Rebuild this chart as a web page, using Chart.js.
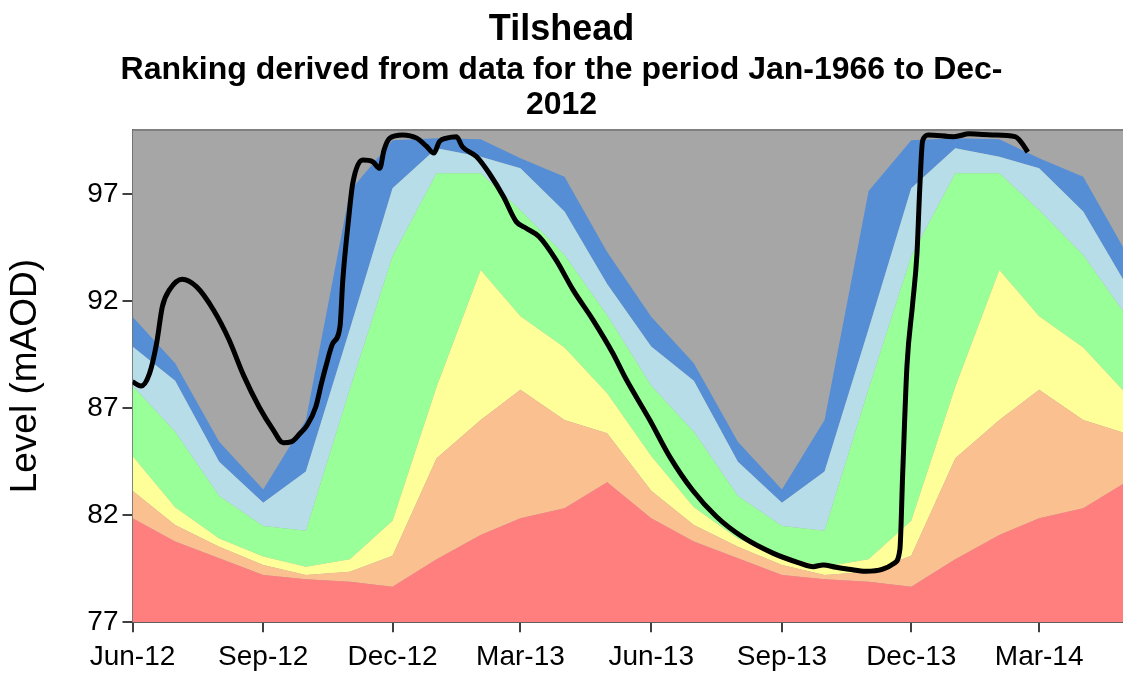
<!DOCTYPE html>
<html>
<head>
<meta charset="utf-8">
<title>Tilshead</title>
<script src="https://cdn.jsdelivr.net/npm/chart.js@4.4.1/dist/chart.umd.min.js"></script>
<style>
  html, body { margin: 0; padding: 0; background: #fff; overflow: hidden; }
  canvas { display: block; }
</style>
</head>
<body>
<canvas id="levelChart" width="1123" height="678"></canvas>
<script>
// upper edge of each ranking band (mAOD), calendar months Jun..May
const redTop       = [81.86, 80.77, 79.99, 79.21, 79.01, 78.90, 78.66, 79.95, 81.08, 81.86, 82.33, 83.54];
const salmonTop    = [83.15, 81.55, 80.53, 79.68, 79.21, 79.36, 80.11, 84.66, 86.45, 87.86, 86.45, 85.83];
const yellowTop    = [84.77, 82.37, 80.92, 80.07, 79.60, 79.94, 81.75, 88.00, 93.46, 91.30, 89.84, 87.70];
const greenTop     = [88.05, 85.90, 82.90, 81.50, 81.28, 87.90, 94.10, 97.98, 97.98, 96.25, 94.16, 91.35];
const lightBlueTop = [89.88, 88.28, 84.50, 82.59, 84.04, 90.70, 97.28, 99.15, 98.75, 98.21, 96.19, 92.80];
const blueTop      = [91.28, 89.10, 85.44, 83.21, 86.45, 97.15, 99.52, 99.62, 99.57, 98.68, 97.82, 94.30];

const monthStarts = [
  '2012-06-01', '2012-07-01', '2012-08-01', '2012-09-01', '2012-10-01', '2012-11-01',
  '2012-12-01', '2013-01-01', '2013-02-01', '2013-03-01', '2013-04-01', '2013-05-01',
  '2013-06-01', '2013-07-01', '2013-08-01', '2013-09-01', '2013-10-01', '2013-11-01',
  '2013-12-01', '2014-01-01', '2014-02-01', '2014-03-01', '2014-04-01', '2014-05-01'
];

// observed groundwater level
const levelDates = [
  '2012-06-01', '2012-06-07', '2012-06-13', '2012-06-18', '2012-06-22', '2012-06-27',
  '2012-07-06', '2012-07-16', '2012-07-28', '2012-08-08', '2012-08-18', '2012-08-29',
  '2012-09-08', '2012-09-15', '2012-09-21', '2012-09-27', '2012-10-02', '2012-10-08',
  '2012-10-12', '2012-10-15', '2012-10-20', '2012-10-25', '2012-10-27', '2012-10-31',
  '2012-11-03', '2012-11-10', '2012-11-17', '2012-11-22', '2012-11-25', '2012-11-29',
  '2012-12-08', '2012-12-18', '2012-12-25', '2012-12-30', '2013-01-03', '2013-01-08',
  '2013-01-15', '2013-01-19', '2013-01-29', '2013-02-07', '2013-02-17', '2013-02-26',
  '2013-03-05', '2013-03-14', '2013-03-26', '2013-04-07', '2013-04-21', '2013-05-05',
  '2013-05-14', '2013-05-31', '2013-06-14', '2013-06-30', '2013-07-17', '2013-08-04',
  '2013-08-26', '2013-09-13', '2013-09-23', '2013-09-30', '2013-10-09', '2013-10-18',
  '2013-10-30', '2013-11-11', '2013-11-19', '2013-11-23', '2013-11-25', '2013-11-28',
  '2013-12-02', '2013-12-05', '2013-12-07', '2013-12-09', '2013-12-13', '2013-12-31',
  '2014-01-11', '2014-01-27', '2014-02-12', '2014-02-16', '2014-02-21'
];
const levelValues = [
  88.24, 88.04, 88.63, 90.05, 91.75, 92.53,
  93.03, 92.68, 91.59, 90.19, 88.56, 87.07,
  85.99, 85.39, 85.44, 85.83, 86.22, 87.07,
  88.17, 88.94, 90.04, 90.81, 93.00, 95.80,
  97.51, 98.60, 98.52, 98.21, 99.07, 99.62,
  99.77, 99.62, 99.23, 98.92, 99.46, 99.62,
  99.69, 99.23, 98.76, 97.98, 96.89, 95.72,
  95.41, 95.02, 93.93, 92.53, 91.13, 89.57,
  88.40, 86.45, 84.74, 83.18, 81.93, 81.00,
  80.22, 79.78, 79.60, 79.68, 79.57, 79.48,
  79.38, 79.48, 79.76, 80.40, 84.00, 89.00,
  91.90, 94.20, 97.30, 99.50, 99.77, 99.69,
  99.82, 99.77, 99.69, 99.46, 98.97
];

const tickDates = ['2012-06-01', '2012-09-01', '2012-12-01', '2013-03-01', '2013-06-01', '2013-09-01', '2013-12-01', '2014-03-01'];
const tickLabels = ['Jun-12', 'Sep-12', 'Dec-12', 'Mar-13', 'Jun-13', 'Sep-13', 'Dec-13', 'Mar-14'];
const levelTicks = [77, 82, 87, 92, 97];

const DAY0 = Date.UTC(2012, 5, 1);
function dayNum(s) {
  const [y, m, d] = s.split('-').map(Number);
  return (Date.UTC(y, m - 1, d) - DAY0) / 864e5;
}

const FONT = 'Liberation Sans, Arial, Helvetica, sans-serif';

function band(values) {
  return monthStarts.map((d, i) => ({ x: dayNum(d), y: values[i % 12] }));
}

function bandSet(label, values, color, fill) {
  return {
    label: label,
    data: band(values),
    backgroundColor: color,
    borderWidth: 0,
    pointRadius: 0,
    tension: 0,
    fill: fill
  };
}

// grey plot area behind the bands, grey frame on top
const plotFrame = {
  id: 'plotFrame',
  beforeDatasetsDraw(chart) {
    const { ctx, chartArea: a } = chart;
    ctx.save();
    ctx.fillStyle = '#a6a6a6';
    ctx.fillRect(a.left, a.top, a.right - a.left, a.bottom - a.top);
    ctx.restore();
  },
  afterDatasetsDraw(chart) {
    const { ctx, chartArea: a } = chart;
    ctx.save();
    ctx.strokeStyle = '#7f7f7f';
    ctx.lineWidth = 2;
    ctx.beginPath();
    ctx.moveTo(a.left, a.top);
    ctx.lineTo(a.right, a.top);
    ctx.stroke();
    ctx.restore();
  }
};

const tickMap = {};
tickDates.forEach((d, i) => { tickMap[dayNum(d)] = tickLabels[i]; });

new Chart(document.getElementById('levelChart'), {
  type: 'line',
  data: {
    datasets: [
      bandSet('Lowest', redTop, '#ff7f7f', 'start'),
      bandSet('Notably low', salmonTop, '#fac090', '-1'),
      bandSet('Below normal', yellowTop, '#ffff99', '-1'),
      bandSet('Normal', greenTop, '#99ff99', '-1'),
      bandSet('Above normal', lightBlueTop, '#b7dde8', '-1'),
      bandSet('Notably high', blueTop, '#558ed5', '-1'),
      {
        label: 'Level',
        data: levelDates.map((d, i) => ({ x: dayNum(d), y: levelValues[i] })),
        borderColor: '#000',
        borderWidth: 5,
        pointRadius: 0,
        cubicInterpolationMode: 'monotone',
        fill: false,
        order: -1
      }
    ]
  },
  options: {
    responsive: false,
    animation: false,
    events: [],
    layout: { padding: 0 },
    plugins: {
      legend: { display: false },
      tooltip: { enabled: false },
      title: {
        display: true,
        text: 'Tilshead',
        color: '#000',
        font: { family: FONT, size: 36, weight: 'bold', lineHeight: 1.2 },
        padding: { top: 8, bottom: 0 }
      },
      subtitle: {
        display: true,
        text: ['Ranking derived from data for the period Jan-1966 to Dec-', '2012'],
        color: '#000',
        font: { family: FONT, size: 32, weight: 'bold', lineHeight: 1.1 },
        padding: { top: 1, bottom: 7.4 }
      }
    },
    scales: {
      x: {
        type: 'linear',
        min: 0,
        max: 697,
        z: 1,
        afterFit(scale) { scale.height = 55.7; },
        afterBuildTicks(scale) { scale.ticks = tickDates.map(d => ({ value: dayNum(d) })); },
        ticks: {
          color: '#000',
          font: { family: FONT, size: 28 },
          padding: 8,
          maxRotation: 0,
          autoSkip: false,
          callback: v => tickMap[v]
        },
        grid: { drawOnChartArea: false, tickLength: 10, color: '#404040', lineWidth: 2 },
        border: { color: '#404040', width: 2 }
      },
      y: {
        min: 77,
        max: 100,
        z: 1,
        afterFit(scale) { scale.width = 132.5; },
        afterBuildTicks(scale) { scale.ticks = levelTicks.map(v => ({ value: v })); },
        ticks: {
          color: '#000',
          font: { family: FONT, size: 28 },
          padding: 4
        },
        grid: { drawOnChartArea: false, tickLength: 10, color: '#404040', lineWidth: 2 },
        border: { color: '#404040', width: 2 },
        title: {
          display: true,
          text: 'Level (mAOD)',
          color: '#000',
          font: { family: FONT, size: 37 },
          padding: { top: 4, bottom: 0 }
        }
      }
    }
  },
  plugins: [plotFrame]
});
</script>
</body>
</html>
